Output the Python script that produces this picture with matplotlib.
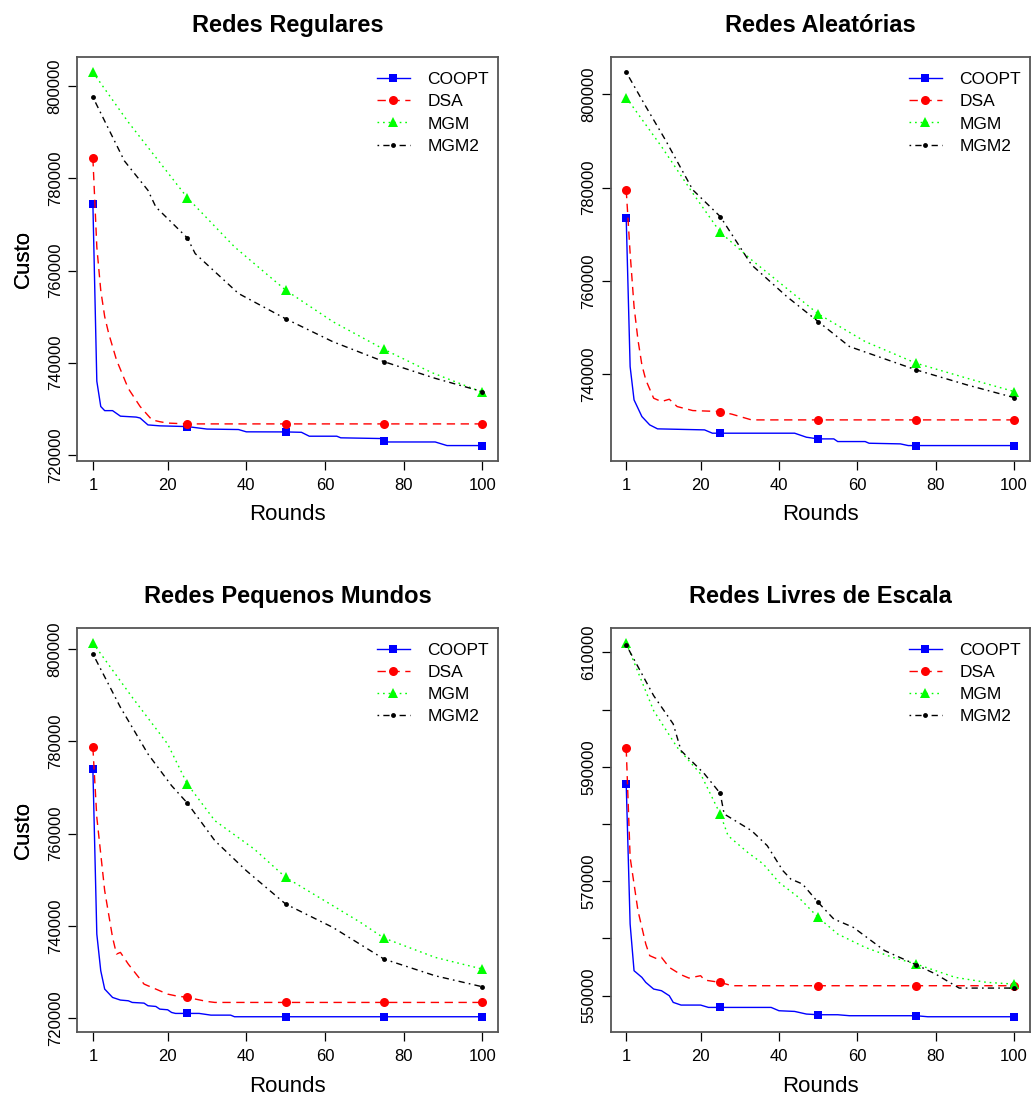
import matplotlib
matplotlib.use("Agg")
import matplotlib.pyplot as plt
from matplotlib.lines import Line2D
from matplotlib.ticker import MultipleLocator, FuncFormatter

plt.rcParams['font.family'] = ['Liberation Sans', 'DejaVu Sans']

# ---- data (Custo per round) ----
titles = ['Redes Regulares', 'Redes Aleatórias', 'Redes Pequenos Mundos', 'Redes Livres de Escala']
series_names = ['COOPT', 'DSA', 'MGM', 'MGM2']
marker_rounds = [1, 25, 50, 75, 100]
xticks = [1, 20, 40, 60, 80, 100]

# Redes Regulares
reg_coopt_r = [1, 2, 3, 4, 6, 8, 12, 13, 15, 18, 25, 30, 38, 40, 50, 54, 56, 63, 64, 74, 75, 76, 88, 91, 100]
reg_coopt_v = [774500, 736000, 730500, 729600, 729600, 728400, 728200, 728000, 726500, 726300, 726140,
               725600, 725500, 725000, 724980, 724900, 724050, 724050, 723700, 723550, 722960, 722800,
               722800, 722020, 722020]
reg_dsa_r = [1, 2, 3, 4, 5, 7, 10, 13, 16, 18, 20, 25, 50, 75, 100]
reg_dsa_v = [784400, 765100, 755700, 750000, 746400, 740600, 734400, 730500, 727600, 727200, 726900,
             726720, 726720, 726720, 726720]
reg_mgm_r = [1, 10, 25, 37, 50, 62, 75, 87, 100]
reg_mgm_v = [803030, 792200, 775810, 765130, 755740, 748900, 742890, 737900, 733580]
reg_mgm2_r = [1, 9, 15, 17, 25, 27, 38, 50, 62, 75, 88, 100]
reg_mgm2_v = [797620, 783800, 777400, 773790, 767080, 763680, 755020, 749530, 744550, 740220, 736610, 733720]

# Redes Aleatórias
ale_coopt_r = [1, 2, 3, 5, 7, 9, 21, 23, 25, 44, 47, 50, 54, 55, 62, 63, 71, 73, 75, 100]
ale_coopt_v = [773430, 741640, 734500, 730930, 729140, 728290, 728070, 727360, 727360, 727360, 726500,
               726140, 726140, 725570, 725570, 725210, 725070, 724710, 724710, 724710]
ale_dsa_r = [1, 2, 3, 4, 5, 6, 8, 10, 12, 14, 18, 25, 28, 33, 50, 75, 100]
ale_dsa_v = [779500, 765930, 754500, 747360, 742000, 738790, 734860, 734140, 734640, 733070, 732210,
             732000, 731430, 730210, 730210, 730210, 730210]
ale_mgm_r = [1, 10, 18, 25, 33, 50, 62, 75, 88, 100]
ale_mgm_v = [799290, 788790, 778790, 770430, 764500, 752930, 747000, 742360, 739140, 736290]
ale_mgm2_r = [1, 6, 11, 18, 25, 33, 42, 50, 58, 75, 88, 100]
ale_mgm2_v = [804710, 797360, 790210, 779500, 773790, 763430, 756640, 751290, 745930, 740930, 737710, 735000]

# Redes Pequenos Mundos
peq_coopt_r = [1, 2, 3, 4, 6, 8, 10, 11, 14, 15, 17, 18, 20, 21, 22, 25, 28, 31, 36, 37, 50, 75, 100]
peq_coopt_v = [774010, 738270, 730330, 726360, 724550, 723980, 723830, 723470, 723320, 722750, 722600,
               722020, 721880, 721300, 721090, 721090, 721090, 720720, 720720, 720370, 720370, 720370, 720370]
peq_dsa_r = [1, 2, 4, 6, 7, 8, 10, 12, 14, 16, 17, 20, 22, 25, 30, 32, 50, 75, 100]
peq_dsa_v = [778700, 763540, 747660, 737550, 733940, 734300, 731770, 729600, 727440, 726720, 726360,
             725270, 724910, 724550, 723680, 723470, 723470, 723470, 723470]
peq_mgm_r = [1, 11, 20, 25, 32, 42, 50, 62, 69, 75, 88, 100]
peq_mgm_v = [801300, 789530, 779420, 770760, 762820, 756680, 750540, 744410, 740800, 737400, 733220, 730690]
peq_mgm2_r = [1, 8, 15, 21, 25, 32, 40, 50, 62, 75, 88, 100]
peq_mgm2_v = [798920, 787360, 777260, 770400, 766640, 758490, 751990, 744770, 739710, 732850, 729240, 726860]

# Redes Livres de Escala
liv_coopt_r = [1, 2, 3, 5, 6, 8, 10, 12, 13, 15, 20, 22, 25, 38, 40, 44, 47, 50, 55, 58, 75, 78, 100]
liv_coopt_v = [586990, 562530, 554370, 553210, 552330, 551170, 550880, 550000, 548840, 548370, 548370,
               547960, 547960, 547960, 547380, 547260, 546800, 546680, 546680, 546510, 546510, 546330, 546330]
liv_dsa_r = [1, 2, 4, 6, 7, 9, 10, 12, 15, 17, 20, 21, 25, 28, 50, 75, 100]
liv_dsa_v = [593220, 574180, 564860, 559030, 557000, 556410, 556700, 554950, 553670, 553090, 553500,
             552740, 552330, 551750, 551750, 551750, 551750]
liv_mgm_r = [1, 8, 14, 20, 25, 27, 32, 36, 40, 45, 50, 55, 62, 69, 75, 85, 93, 100]
liv_mgm_v = [611630, 599810, 593400, 588740, 581750, 577960, 575050, 573010, 569810, 567190, 563690,
             560780, 558450, 556700, 555540, 553210, 552340, 552040]
liv_mgm2_r = [1, 8, 13, 15, 21, 25, 26, 33, 37, 41, 43, 46, 50, 54, 59, 63, 67, 75, 80, 85, 86, 100]
liv_mgm2_v = [611280, 602430, 597480, 592820, 588740, 585360, 581750, 578840, 576220, 571850, 570390,
              569520, 566310, 563400, 561940, 559900, 557870, 555420, 553790, 551750, 551340, 551340]

panels = [
    [(reg_coopt_r, reg_coopt_v), (reg_dsa_r, reg_dsa_v), (reg_mgm_r, reg_mgm_v), (reg_mgm2_r, reg_mgm2_v)],
    [(ale_coopt_r, ale_coopt_v), (ale_dsa_r, ale_dsa_v), (ale_mgm_r, ale_mgm_v), (ale_mgm2_r, ale_mgm2_v)],
    [(peq_coopt_r, peq_coopt_v), (peq_dsa_r, peq_dsa_v), (peq_mgm_r, peq_mgm_v), (peq_mgm2_r, peq_mgm2_v)],
    [(liv_coopt_r, liv_coopt_v), (liv_dsa_r, liv_dsa_v), (liv_mgm_r, liv_mgm_v), (liv_mgm2_r, liv_mgm2_v)],
]
ytick_step = [20000, 20000, 20000, 10000]

# ---- styles ----
colors = ['#0000FF', '#FF0000', '#00FF00', '#000000']
markers = ['s', 'o', '^', 'o']
msizes = [5.5, 6.5, 6.5, 3.5]
lstyles = ['-', (0, (6, 4)), (0, (1.2, 2.8)), (0, (1.2, 3, 4.5, 3))]

W, H = 1032, 1097
fig = plt.figure(figsize=(W / 100, H / 100), dpi=100)

# axes boxes in pixels: left, right, top, bottom
boxes = [(77.3, 498, 57.3, 460.5), (610.7, 1029.5, 57.3, 460.5),
         (77.3, 498, 628, 1031.7), (610.7, 1029.5, 628, 1031.7)]

for k in range(4):
    l, r, t, b = boxes[k]
    ax = fig.add_axes([l / W, 1 - b / H, (r - l) / W, (b - t) / H])
    for i in range(4):
        rr, vv = panels[k][i]
        idx = [j for j, x in enumerate(rr) if x in marker_rounds]
        ax.plot(rr, vv, color=colors[i], linestyle=lstyles[i], lw=1.0,
                marker=markers[i], markersize=msizes[i], markevery=idx, markeredgewidth=0)
    ax.margins(x=0.04, y=0.04)
    ax.set_xticks(xticks)
    ax.yaxis.set_major_locator(MultipleLocator(ytick_step[k]))
    if k == 3:
        ax.yaxis.set_major_formatter(FuncFormatter(
            lambda v, p: '%d' % round(v) if round(v - 550000) % 20000 == 0 else ''))
    else:
        ax.yaxis.set_major_formatter(FuncFormatter(lambda v, p: '%d' % round(v)))
    ax.tick_params(axis='both', direction='out', length=6.5, width=0.9, labelsize=12, colors='black')
    ax.tick_params(axis='x', pad=6)
    ax.tick_params(axis='y', pad=4)
    for lab in ax.get_yticklabels():
        lab.set_rotation(90)
        lab.set_va('center')
    for s in ax.spines.values():
        s.set_color('#555555')
        s.set_linewidth(1.3)
    ax.set_title(titles[k], fontsize=17, fontweight='bold', pad=18)
    ax.set_xlabel('Rounds', fontsize=16)
    ax.set_ylabel('Custo', fontsize=16)
    ax.xaxis.set_label_coords(0.5, -54.5 / (b - t))
    ax.xaxis.label.set_va('center')
    ax.yaxis.set_label_coords((23 - l) / (r - l), 0.5)
    ax.yaxis.label.set_va('center')

    handles = [Line2D([], [], color=colors[i], linestyle=lstyles[i], lw=1.0, marker=markers[i],
                      markersize=msizes[i], markeredgewidth=0) for i in range(4)]
    ax.legend(handles, series_names, loc='upper left', bbox_to_anchor=(0.712, 0.963),
              frameon=False, fontsize=12.5, borderpad=0, borderaxespad=0,
              handlelength=1.9, handletextpad=1.0, labelspacing=0.4)

fig.savefig('out.png', dpi=100)
